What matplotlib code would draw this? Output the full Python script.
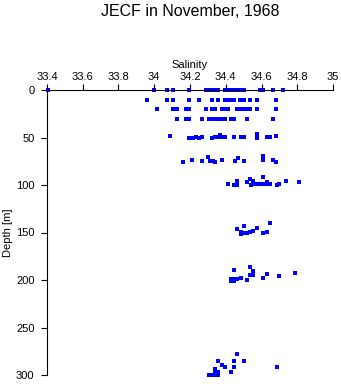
import matplotlib
matplotlib.use("Agg")
import matplotlib.pyplot as plt

plt.rcParams['font.family'] = ['Liberation Sans', 'DejaVu Sans']

# bottle samples, grouped roughly by cast level
sal_0 = [33.406, 34.000, 34.073, 34.107, 34.196, 34.289, 34.306, 34.323, 34.340,
         34.357, 34.396, 34.413, 34.429, 34.446, 34.463, 34.480, 34.502, 34.592,
         34.610, 34.666, 34.719]
dep_0 = [0] * len(sal_0)

sal_10 = [33.961, 34.073, 34.107, 34.196, 34.252, 34.323, 34.358, 34.396, 34.414,
          34.424, 34.433, 34.446, 34.480, 34.502, 34.536, 34.573, 34.681]
dep_10 = [10] * len(sal_10)

sal_20 = [34.017, 34.107, 34.126, 34.178, 34.196, 34.288, 34.323, 34.341, 34.377,
          34.396, 34.414, 34.465, 34.484, 34.502, 34.520, 34.537, 34.573, 34.681]
dep_20 = [20] * len(sal_20)

sal_30 = [34.126, 34.178, 34.196, 34.269, 34.305, 34.323, 34.341, 34.358, 34.377,
          34.396, 34.429, 34.448, 34.520, 34.666]
dep_30 = [30] * len(sal_30)

sal_50 = [34.090, 34.196, 34.215, 34.234, 34.252, 34.269, 34.323, 34.340, 34.358,
          34.368, 34.377, 34.396, 34.448, 34.484, 34.502, 34.573, 34.573, 34.629,
          34.647, 34.681]
dep_50 = [48.4, 50.2, 50.8, 49.8, 50.8, 49.8, 50.2, 49.8, 49.8,
          47.4, 49.8, 49.8, 49.8, 49.8, 49.8, 46.3, 50.5, 49.8,
          49.8, 48.4]

sal_75 = [34.162, 34.213, 34.269, 34.302, 34.312, 34.330, 34.341, 34.377, 34.450,
          34.467, 34.504, 34.610, 34.610, 34.666, 34.683]
dep_75 = [75.5, 73.7, 74.4, 70.8, 75.1, 75.1, 75.5, 73.7, 75.1,
          71.9, 74.4, 69.8, 74.0, 73.7, 75.5]

sal_100 = [34.414, 34.448, 34.465, 34.465, 34.520, 34.536, 34.540, 34.554, 34.554,
           34.573, 34.592, 34.610, 34.610, 34.629, 34.629, 34.647, 34.685, 34.700,
           34.735, 34.808]
dep_100 = [99.3, 100.3, 100.3, 95.5, 97.2, 93.7, 100.3, 95.5, 99.3,
           99.3, 99.3, 99.3, 91.9, 97.2, 99.3, 99.3, 100.3, 99.3,
           95.8, 97.2]

sal_150 = [34.647, 34.504, 34.573, 34.465, 34.484, 34.485, 34.502, 34.517, 34.536,
           34.554, 34.610, 34.629]
dep_150 = [140.3, 143.2, 145.6, 146.6, 149.8, 151.3, 150.5, 150.2, 149.5,
           148.4, 150.2, 149.8]

sal_200 = [34.448, 34.537, 34.554, 34.536, 34.554, 34.629, 34.700, 34.789, 34.610,
           34.429, 34.448, 34.465, 34.485, 34.520, 34.429, 34.448]
dep_200 = [189.5, 186.6, 190.2, 195.1, 195.1, 194.0, 195.5, 192.6, 198.2,
           198.9, 198.9, 198.9, 198.2, 200.3, 200.7, 200.7]

sal_300 = [34.465, 34.358, 34.448, 34.504, 34.377, 34.396, 34.448, 34.685, 34.341,
           34.341, 34.358, 34.431, 34.305, 34.323, 34.341, 34.358]
dep_300 = [278.2, 285.6, 285.6, 285.6, 289.8, 291.9, 291.9, 291.9, 293.4,
           296.5, 296.5, 296.5, 300.3, 300.3, 300.3, 300.3]

salinity = sal_0 + sal_10 + sal_20 + sal_30 + sal_50 + sal_75 + sal_100 + sal_150 + sal_200 + sal_300
depth = dep_0 + dep_10 + dep_20 + dep_30 + dep_50 + dep_75 + dep_100 + dep_150 + dep_200 + dep_300

x_ticks = [33.4, 33.6, 33.8, 34.0, 34.2, 34.4, 34.6, 34.8, 35.0]
x_labels = ['33.4', '33.6', '33.8', '34', '34.2', '34.4', '34.6', '34.8', '35']
y_ticks = [0, 50, 100, 150, 200, 250, 300]

fig = plt.figure(figsize=(3.41, 3.84), dpi=100)
ax = fig.add_axes([47 / 341, 1 - 375 / 384, 286 / 341, 285 / 384])

ax.plot(salinity, depth, 's', color='#0000ff', markersize=2.2,
        markeredgewidth=0, clip_on=False)

ax.set_xlim(33.4, 35.0)
ax.set_ylim(300, 0)
ax.xaxis.tick_top()
ax.xaxis.set_label_position('top')
ax.set_xticks(x_ticks)
ax.set_xticklabels(x_labels)
ax.set_yticks(y_ticks)
ax.tick_params(axis='x', direction='out', length=4, width=0.8, pad=2, labelsize=8)
ax.tick_params(axis='y', direction='out', length=4, width=0.8, pad=5, labelsize=8)

for side in ['right', 'bottom']:
    ax.spines[side].set_visible(False)
for side in ['left', 'top']:
    ax.spines[side].set_linewidth(0.8)

ax.set_xlabel('Salinity', fontsize=8, labelpad=3)
ax.set_ylabel('Depth [m]', fontsize=8, labelpad=2)

# title centred over the axes rather than the figure
fig.text(190 / 341, 1 - 12 / 384, 'JECF in November, 1968',
         ha='center', va='center', fontsize=11.5)

fig.savefig('out.png', dpi=100)
